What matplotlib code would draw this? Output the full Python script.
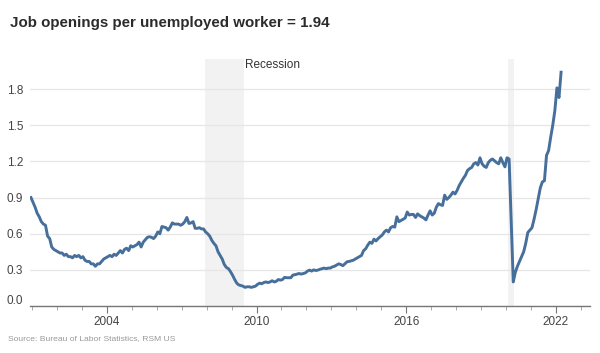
import numpy as np
import matplotlib
matplotlib.use("Agg")
import matplotlib.pyplot as plt
from matplotlib.transforms import ScaledTranslation

plt.rcParams['font.family'] = ['Liberation Sans', 'DejaVu Sans']

# monthly ratio, job openings per unemployed worker, Dec 2000 .. Mar 2022
start_year = 2000
start_month = 12
ratio = [
    0.90,
    # 2001
    0.86, 0.82, 0.77, 0.74, 0.70, 0.68, 0.67, 0.58, 0.56, 0.49, 0.47, 0.46,
    # 2002
    0.45, 0.44, 0.44, 0.42, 0.43, 0.41, 0.41, 0.40, 0.42, 0.41, 0.42, 0.40,
    # 2003
    0.41, 0.38, 0.37, 0.37, 0.35, 0.35, 0.33, 0.35, 0.35, 0.37, 0.39, 0.40,
    # 2004
    0.41, 0.42, 0.41, 0.43, 0.42, 0.44, 0.46, 0.44, 0.47, 0.48, 0.46, 0.50,
    # 2005
    0.49, 0.50, 0.51, 0.53, 0.49, 0.53, 0.55, 0.57, 0.575, 0.57, 0.56, 0.58,
    # 2006
    0.615, 0.60, 0.66, 0.655, 0.65, 0.63, 0.655, 0.69, 0.68, 0.68, 0.68, 0.67,
    # 2007
    0.68, 0.70, 0.735, 0.685, 0.69, 0.70, 0.645, 0.645, 0.65, 0.64, 0.64, 0.615,
    # 2008
    0.60, 0.58, 0.545, 0.52, 0.50, 0.45, 0.42, 0.39, 0.345, 0.32, 0.31, 0.285,
    # 2009
    0.255, 0.22, 0.19, 0.175, 0.17, 0.165, 0.155, 0.16, 0.16, 0.155, 0.16, 0.165,
    # 2010
    0.18, 0.19, 0.185, 0.195, 0.20, 0.195, 0.20, 0.21, 0.20, 0.205, 0.22, 0.215,
    # 2011
    0.22, 0.238, 0.235, 0.235, 0.235, 0.257, 0.26, 0.265, 0.27, 0.265, 0.27, 0.275,
    # 2012
    0.29, 0.298, 0.29, 0.30, 0.295, 0.298, 0.305, 0.31, 0.315, 0.31, 0.315, 0.315,
    # 2013
    0.325, 0.33, 0.34, 0.35, 0.345, 0.335, 0.35, 0.367, 0.37, 0.375, 0.38, 0.39,
    # 2014
    0.40, 0.41, 0.42, 0.46, 0.475, 0.505, 0.53, 0.52, 0.555, 0.54, 0.56, 0.575,
    # 2015
    0.59, 0.615, 0.63, 0.615, 0.65, 0.66, 0.655, 0.74, 0.70, 0.71, 0.72, 0.73,
    # 2016
    0.78, 0.755, 0.76, 0.76, 0.735, 0.765, 0.75, 0.74, 0.73, 0.715, 0.755, 0.79,
    # 2017
    0.755, 0.77, 0.82, 0.85, 0.84, 0.835, 0.92, 0.885, 0.90, 0.92, 0.945, 0.93,
    # 2018
    0.96, 1.00, 1.03, 1.06, 1.085, 1.125, 1.14, 1.15, 1.18, 1.19, 1.17, 1.23,
    # 2019
    1.18, 1.16, 1.15, 1.19, 1.21, 1.22, 1.205, 1.19, 1.18, 1.23, 1.19, 1.155,
    # 2020
    1.23, 1.22, 0.72, 0.20, 0.28, 0.33, 0.37, 0.41, 0.45, 0.52, 0.61, 0.63,
    # 2021
    0.65, 0.72, 0.80, 0.89, 0.98, 1.03, 1.04, 1.25, 1.29, 1.40, 1.50, 1.62,
    # 2022
    1.81, 1.73, 1.94,
]

recessions = [(2007 + 11 / 12, 2009 + 6 / 12), (2020 + 1 / 12, 2020 + 4 / 12)]
year_ticks = [2004, 2010, 2016, 2022]
y_ticks = [0.0, 0.3, 0.6, 0.9, 1.2, 1.5, 1.8]

months = np.arange(len(ratio))
dates = start_year + (start_month - 1 + months + 0.5) / 12.0

fig = plt.figure(figsize=(6, 3.53), dpi=100)
ax = fig.add_axes([0.05, 0.133, 0.933, 0.70])

for a, b in recessions:
    ax.axvspan(a, b, color='#f2f2f2', lw=0, zorder=0)
ax.text(recessions[0][1] + 0.05, 2.0, "Recession", fontsize=8.5, color='#333333',
        va='center', ha='left')

ax.plot(dates, ratio, color='#466f9b', lw=2.1, solid_joinstyle='round', zorder=3)

ax.set_xlim(2000.92, 2023.36)
ax.set_ylim(0, 2.05)
ax.set_yticks(y_ticks)
ax.set_yticklabels([f"{v:.1f}" for v in y_ticks])
ax.set_xticks(year_ticks)
ax.set_xticks(range(2001, 2024), minor=True)
ax.grid(axis='y', color='#e6e6e6', lw=0.9, zorder=1)

for s in ['top', 'right', 'left']:
    ax.spines[s].set_visible(False)
ax.spines['bottom'].set_color('#777777')
ax.spines['bottom'].set_linewidth(1.0)

ax.tick_params(axis='y', length=0, pad=5, labelsize=8.5, labelcolor='#444444')
ax.tick_params(axis='x', which='major', length=5, color='#777777', labelsize=8.5,
               labelcolor='#444444', pad=2)
ax.tick_params(axis='x', which='minor', length=3, color='#999999')

# lift the 0.0 label above the axis line
lab0 = ax.get_yticklabels()[0]
lab0.set_transform(lab0.get_transform() + ScaledTranslation(0, 0.07, fig.dpi_scale_trans))

fig.text(0.017, 0.935, "Job openings per unemployed worker = 1.94", fontsize=10.9,
         fontweight='bold', color='#2b2b2b', va='center', ha='left')
fig.text(0.013, 0.042, "Source: Bureau of Labor Statistics, RSM US", fontsize=6.1,
         color='#999999', va='center', ha='left')

fig.savefig("out.png", dpi=100)
